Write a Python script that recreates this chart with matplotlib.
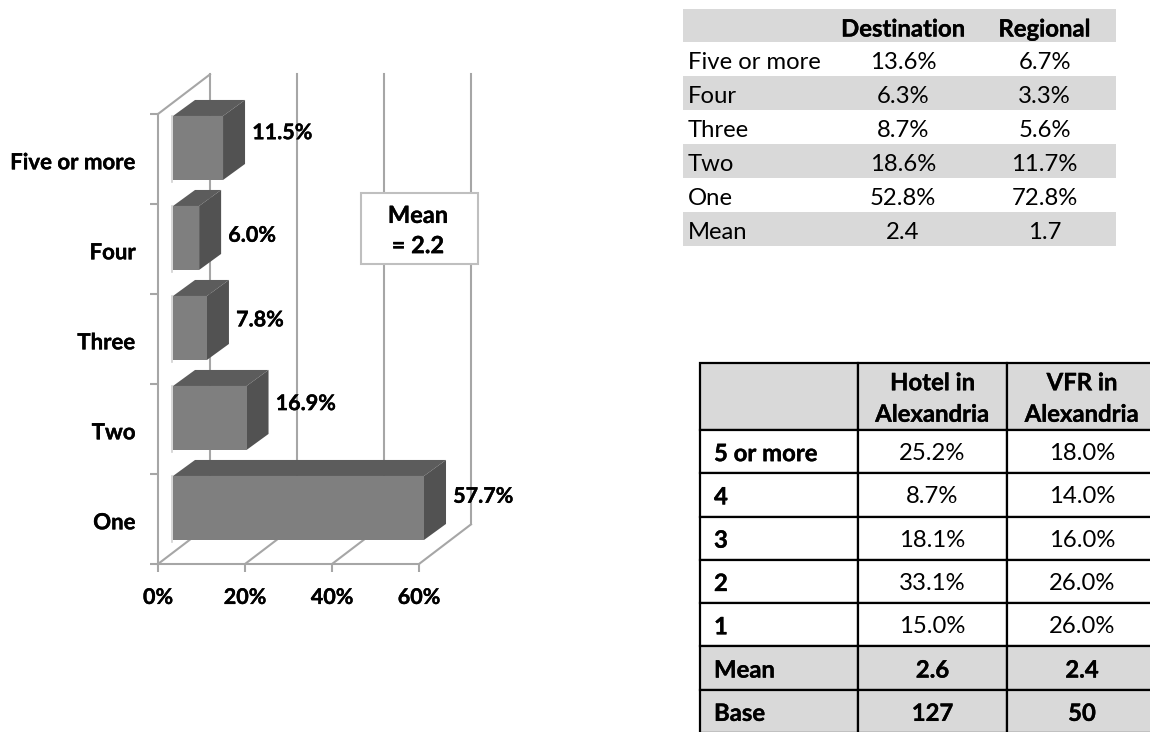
import matplotlib
matplotlib.use("Agg")
import matplotlib.pyplot as plt
import matplotlib.patheffects as pe
from matplotlib.patches import Rectangle

plt.rcParams['font.family'] = ['Lato', 'DejaVu Sans']

# chart data, bottom to top
categories = ["One", "Two", "Three", "Four", "Five or more"]
values = [57.7, 16.9, 7.8, 6.0, 11.5]
xticks = [0, 20, 40, 60]
mean_label = "Mean\n= 2.2"

# top right table
t1_header = ["", "Destination", "Regional"]
t1_rows = ["Five or more", "Four", "Three", "Two", "One", "Mean"]
t1_destination = ["13.6%", "6.3%", "8.7%", "18.6%", "52.8%", "2.4"]
t1_regional = ["6.7%", "3.3%", "5.6%", "11.7%", "72.8%", "1.7"]

# bottom right table
t2_header = ["", "Hotel in\nAlexandria", "VFR in\nAlexandria"]
t2_rows = ["5 or more", "4", "3", "2", "1", "Mean", "Base"]
t2_hotel = ["25.2%", "8.7%", "18.1%", "33.1%", "15.0%", "2.6", "127"]
t2_vfr = ["18.0%", "14.0%", "16.0%", "26.0%", "26.0%", "2.4", "50"]

W, H = 1150, 732
GRID = "#a6a6a6"
FRONT = "#7f7f7f"
TOP = "#5c5c5c"
SIDE = "#525252"
SHADE = "#d9d9d9"
HEAVY = [pe.withStroke(linewidth=0.25, foreground="black")]

fig = plt.figure(figsize=(W / 100, H / 100), dpi=100, facecolor="white")


def px_axes(left, top, right, bottom):
    return fig.add_axes([left / W, 1 - bottom / H, (right - left) / W, (bottom - top) / H])


# front plane of the 3d box, the depth is done as an offset in data units
ax = px_axes(158, 114, 419, 564)
ax.set_xlim(0, 60)
ax.set_ylim(0, 5)
ax.patch.set_visible(False)
for s in ax.spines.values():
    s.set_visible(False)

wall_dx, wall_dy = 11.95, 0.44
bar_x0 = 3.45
bar_y0, bar_h = 0.267, 0.711
bar_dx, bar_dy = 5.06, 0.178

# walls and grid
for t in xticks:
    ax.plot([t, t + wall_dx], [0, wall_dy], color=GRID, lw=1.5, clip_on=False, zorder=1)
    ax.plot([t + wall_dx, t + wall_dx], [wall_dy, 5 + wall_dy], color=GRID, lw=1.5,
            clip_on=False, zorder=1)
ax.plot([0, 60], [0, 0], color=GRID, lw=1.5, clip_on=False, zorder=1)
ax.plot([0, 0], [0, 5], color=GRID, lw=1.5, clip_on=False, zorder=1)
ax.plot([0, wall_dx], [5, 5 + wall_dy], color=GRID, lw=1.5, clip_on=False, zorder=1)

# bars, top one first so lower bars sit over it
label_dy = [0.13, 0.16, 0.09, 0.03, 0.17]
for i in reversed(range(len(values))):
    v = values[i]
    x0 = bar_x0
    x1 = bar_x0 + v
    y0 = i + bar_y0
    y1 = y0 + bar_h
    z = 5 + (len(values) - i)
    # soft pale edge on the left of each bar
    ax.plot([x0 - 0.2, x0 - 0.2], [y0 - 0.02, y1], color="#d0d0d0", lw=1.2, clip_on=False, zorder=z)
    ax.fill([x0, x1, x1 + bar_dx, x0 + bar_dx], [y1, y1, y1 + bar_dy, y1 + bar_dy],
            color=TOP, lw=0, clip_on=False, zorder=z)
    ax.fill([x1, x1 + bar_dx, x1 + bar_dx, x1], [y0, y0 + bar_dy, y1 + bar_dy, y1],
            color=SIDE, lw=0, clip_on=False, zorder=z)
    ax.barh(i + bar_y0 + bar_h / 2, v, height=bar_h, left=x0, color=FRONT, lw=0,
            clip_on=False, zorder=z)
    ax.text(x1 + 6.7, y0 + bar_h / 2 + label_dy[i], "%.1f%%" % v, fontsize=15.5, fontweight="bold",
            ha="left", va="center", color="black", zorder=20, clip_on=False, path_effects=HEAVY)

ax.set_xticks(xticks)
ax.set_xticklabels(["%d%%" % t for t in xticks], fontsize=15.5, fontweight="bold", path_effects=HEAVY)
ax.tick_params(axis="x", length=6, width=1.5, color=GRID, pad=10.5)
ax.set_yticks(range(6))
ax.set_yticklabels([])
ax.tick_params(axis="y", which="major", length=6, width=1.5, color=GRID)
ax.set_yticks([i + 0.48 for i in range(5)], minor=True)
ax.set_yticklabels(categories, minor=True, fontsize=16, fontweight="bold", path_effects=HEAVY)
ax.tick_params(axis="y", which="minor", length=0, pad=16)

# mean callout
fig.add_artist(Rectangle((361 / W, 1 - 264 / H), 117 / W, 71 / H, transform=fig.transFigure,
                         facecolor="white", edgecolor="#bfbfbf", lw=1.5, zorder=30))
fig.text(418 / W, 1 - 230.5 / H, mean_label, fontsize=17, fontweight="bold", ha="center",
         va="center", linespacing=1.38, zorder=31, path_effects=HEAVY)


def draw_table(axt, header, rows, col1, col2, col_w, row_h):
    # table gives the cells, the text goes on top in pixel like units
    axt.axis("off")
    axt.set_xlim(0, sum(col_w))
    axt.set_ylim(sum(row_h), 0)
    cells = [header] + [[rows[i], col1[i], col2[i]] for i in range(len(rows))]
    blank = [["" for c in r] for r in cells]
    tb = axt.table(cellText=blank, colWidths=col_w, bbox=[0, 0, 1, 1])
    tb.auto_set_font_size(False)
    for (r, c), cell in tb.get_celld().items():
        cell.set_height(row_h[r])
    return tb, cells


def put_text(axt, cells, col_w, row_h, text_dy, left_pad, is_bold, size, spacing=1.2):
    ytop = 0
    for r, row in enumerate(cells):
        xleft = 0
        for c, txt in enumerate(row):
            bold = is_bold(r, c)
            x = xleft + left_pad if c == 0 else xleft + col_w[c] / 2
            axt.text(x, ytop + row_h[r] / 2 + text_dy, txt, fontsize=size,
                     fontweight="bold" if bold else "normal", ha="left" if c == 0 else "center",
                     va="center", color="black", linespacing=spacing,
                     path_effects=HEAVY if bold else None, zorder=10)
            xleft += col_w[c]
        ytop += row_h[r]


# top right table
ax1 = px_axes(683, 9, 1116, 246)
w1 = [150, 140, 143]
h1 = [33, 34, 34, 34, 34, 34, 34]
tb1, cells1 = draw_table(ax1, t1_header, t1_rows, t1_destination, t1_regional, w1, h1)
for (r, c), cell in tb1.get_celld().items():
    cell.set_linewidth(0)
    cell.set_facecolor(SHADE if r % 2 == 0 else "white")
put_text(ax1, cells1, w1, h1, 3.5, 5, lambda r, c: r == 0, 17.2)

# bottom right table, runs off the picture on the right and bottom
ax2 = px_axes(700, 363, 1157, 733)
w2 = [158, 149, 150]
h2 = [67, 43.3, 43.3, 43.3, 43.3, 43.3, 43.3, 43.3]
tb2, cells2 = draw_table(ax2, t2_header, t2_rows, t2_hotel, t2_vfr, w2, h2)
for (r, c), cell in tb2.get_celld().items():
    cell.set_linewidth(1.6)
    cell.set_edgecolor("black")
    cell.set_facecolor(SHADE if r == 0 or r >= 6 else "white")
put_text(ax2, cells2, w2, h2, 2, 14, lambda r, c: r == 0 or r >= 6 or c == 0, 17.2, spacing=1.45)

fig.savefig("out.png", dpi=100)
